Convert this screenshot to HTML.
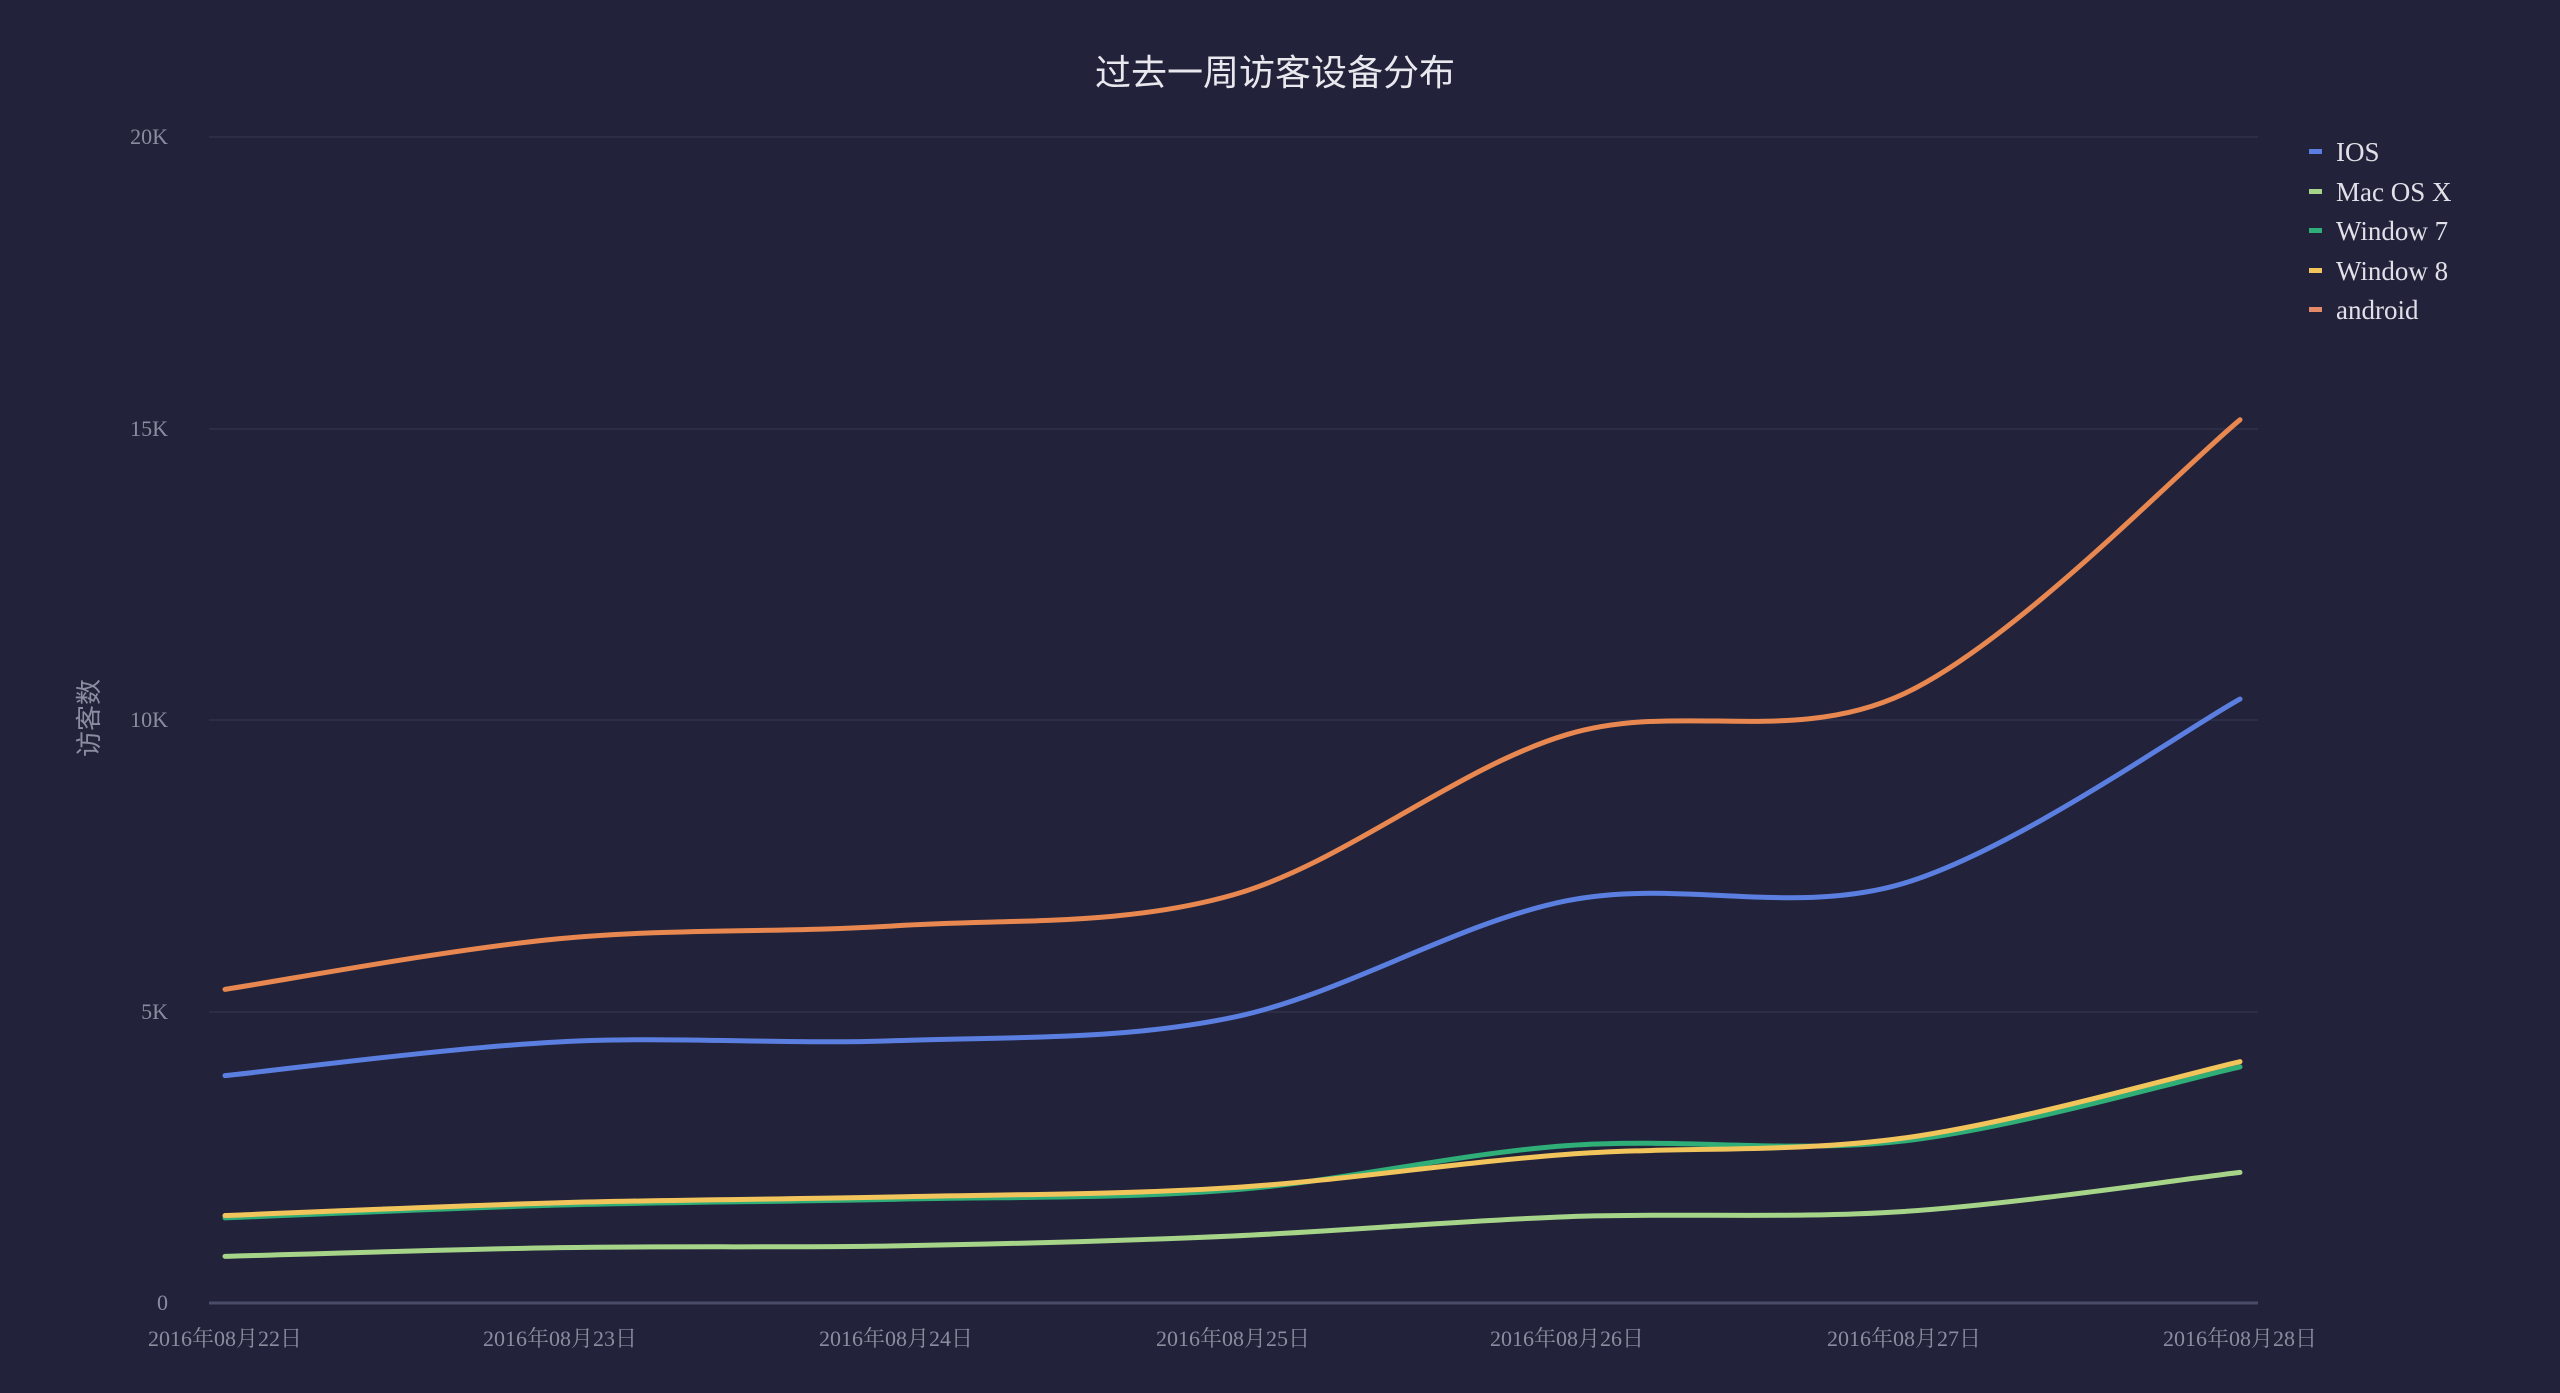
<!DOCTYPE html>
<html><head><meta charset="utf-8"><style>
html,body{margin:0;padding:0;background:#22233a;}
svg{display:block}
text{font-family:"Liberation Serif","Noto Serif CJK SC",serif;}
</style></head><body>
<svg id="c" width="2560" height="1393" viewBox="0 0 2560 1393" xmlns="http://www.w3.org/2000/svg">
<rect width="2560" height="1393" fill="#22233a"/>
<text x="1275" y="85" text-anchor="middle" font-size="36" fill="#e8e8ee" style="font-family:'Liberation Sans','Noto Sans CJK SC',sans-serif">过去一周访客设备分布</text>
<g stroke="#2c2e48" stroke-width="2">
<line x1="209" y1="137" x2="2258" y2="137"/>
<line x1="209" y1="429" x2="2258" y2="429"/>
<line x1="209" y1="720" x2="2258" y2="720"/>
<line x1="209" y1="1012" x2="2258" y2="1012"/>
</g>
<line x1="209" y1="1303" x2="2258" y2="1303" stroke="#4a4c68" stroke-width="3"/>
<g font-size="22" fill="#8a8ca0" text-anchor="end">
<text x="168" y="144">20K</text><text x="168" y="436">15K</text><text x="168" y="727">10K</text><text x="168" y="1019">5K</text><text x="168" y="1310">0</text>
</g>
<text transform="translate(98,718) rotate(-90)" text-anchor="middle" font-size="26" fill="#8a8ca0" style="font-family:'Liberation Sans','Noto Sans CJK SC',sans-serif">访客数</text>
<g font-size="22" fill="#8a8ca0" text-anchor="middle">
<text x="225" y="1346">2016年08月22日</text><text x="560" y="1346">2016年08月23日</text><text x="896" y="1346">2016年08月24日</text><text x="1233" y="1346">2016年08月25日</text><text x="1567" y="1346">2016年08月26日</text><text x="1904" y="1346">2016年08月27日</text><text x="2240" y="1346">2016年08月28日</text>
</g>
<g id="lines" fill="none" stroke-width="5" stroke-linecap="round"></g>
<g font-size="27" fill="#e0e0e8">
<rect x="2309" y="149" width="13" height="5" fill="#5b7fe0"/><text x="2336" y="161">IOS</text>
<rect x="2309" y="189" width="13" height="5" fill="#a6d488"/><text x="2336" y="201">Mac OS X</text>
<rect x="2309" y="228" width="13" height="5" fill="#2fae78"/><text x="2336" y="240">Window 7</text>
<rect x="2309" y="268" width="13" height="5" fill="#f2c45c"/><text x="2336" y="280">Window 8</text>
<rect x="2309" y="307" width="13" height="5" fill="#e58a68"/><text x="2336" y="319">android</text>
</g>
</svg>
<script>
var xs=[225,560,896,1233,1567,1904,2240];
function Y(v){return 1303-v*(1303-137)/20;}
var series=[
["#a6d488",[0.8,0.95,0.98,1.15,1.48,1.57,2.24]],
["#2fae78",[1.46,1.68,1.78,1.94,2.7,2.78,4.05]],
["#f2c45c",[1.5,1.72,1.82,1.98,2.55,2.83,4.14]],
["#5b7fe0",[3.9,4.48,4.5,4.9,6.9,7.2,10.36]],
["#e88850",[5.38,6.25,6.47,7.0,9.75,10.45,15.15]]];
var g=document.getElementById('lines');
series.forEach(function(s){
 var p=xs.map(function(x,i){return [x,Y(s[1][i])];});
 var d="M"+p[0][0]+","+p[0][1];
 for(var i=0;i<p.length-1;i++){
  var p0=p[Math.max(0,i-1)],p1=p[i],p2=p[i+1],p3=p[Math.min(p.length-1,i+2)];
  var t=0.5/3*2;
  var c1=[p1[0]+(p2[0]-p0[0])*t/2*1.0,p1[1]+(p2[1]-p0[1])*t/2];
  var c2=[p2[0]-(p3[0]-p1[0])*t/2,p2[1]-(p3[1]-p1[1])*t/2];
  d+=" C"+c1[0]+","+c1[1]+" "+c2[0]+","+c2[1]+" "+p2[0]+","+p2[1];
 }
 var e=document.createElementNS("http://www.w3.org/2000/svg","path");
 e.setAttribute("d",d);e.setAttribute("stroke",s[0]);g.appendChild(e);
});
</script>
</body></html>
